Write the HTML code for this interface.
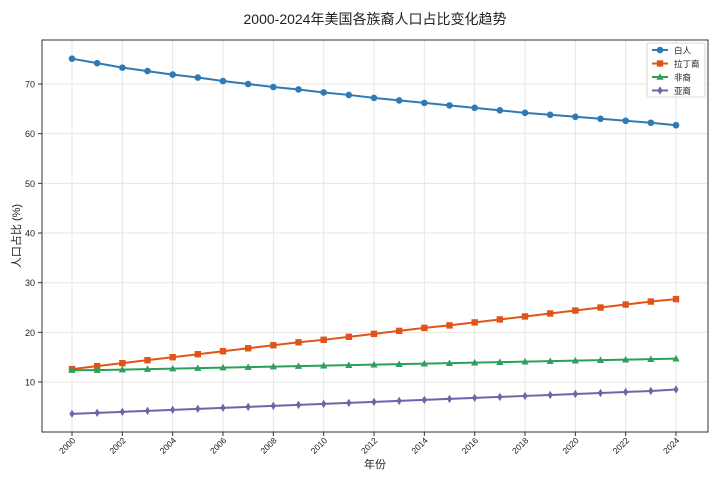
<!DOCTYPE html>
<html><head><meta charset="utf-8"><style>
body{margin:0;background:#fff;}
svg{display:block;font-family:"Liberation Sans","Noto Sans CJK SC",sans-serif;}
</style></head><body>
<svg id="c" width="720" height="478" viewBox="0 0 720 478">
<text x="375" y="24" text-anchor="middle" font-size="14" fill="#222">2000-2024年美国各族裔人口占比变化趋势</text>
<g id="grid"></g>
<rect x="42" y="40" width="666" height="392" fill="none" stroke="#333" stroke-width="1"/>
<g id="axes"></g>
<g id="series"></g>
<text x="375" y="468" text-anchor="middle" font-size="11" fill="#222">年份</text>
<text transform="translate(20,236) rotate(-90)" text-anchor="middle" font-size="11" fill="#222">人口占比 (%)</text>
<g id="legend"></g>
</svg>
<script>
const years=[2000,2001,2002,2003,2004,2005,2006,2007,2008,2009,2010,2011,2012,2013,2014,2015,2016,2017,2018,2019,2020,2021,2022,2023,2024];
const white=[75.1,74.2,73.3,72.6,71.9,71.3,70.6,70.0,69.4,68.9,68.3,67.8,67.2,66.7,66.2,65.7,65.2,64.7,64.2,63.8,63.4,63.0,62.6,62.2,61.7];
const hispanic=[12.6,13.2,13.8,14.4,15.0,15.6,16.2,16.8,17.4,18.0,18.5,19.1,19.7,20.3,20.9,21.4,22.0,22.6,23.2,23.8,24.4,25.0,25.6,26.2,26.7];
const black=[12.4,12.4,12.5,12.6,12.7,12.8,12.9,13.0,13.1,13.2,13.3,13.4,13.5,13.6,13.7,13.8,13.9,14.0,14.1,14.2,14.3,14.4,14.5,14.6,14.7];
const asian=[3.6,3.8,4.0,4.2,4.4,4.6,4.8,5.0,5.2,5.4,5.6,5.8,6.0,6.2,6.4,6.6,6.8,7.0,7.2,7.4,7.6,7.8,8.0,8.2,8.5];
const yTicks=[10,20,30,40,50,60,70];
const xTicks=[2000,2002,2004,2006,2008,2010,2012,2014,2016,2018,2020,2022,2024];
const seriesNames=["白人","拉丁裔","非裔","亚裔"];
const NS="http://www.w3.org/2000/svg";
const X=v=>72+(v-2000)*(676-72)/24;
const Y=v=>431.7-v*4.967;
function mk(tag,attrs,parent){const e=document.createElementNS(NS,tag);for(const k in attrs)e.setAttribute(k,attrs[k]);parent.appendChild(e);return e;}
const grid=document.getElementById('grid'),axes=document.getElementById('axes'),ser=document.getElementById('series'),leg=document.getElementById('legend');
yTicks.forEach(t=>{
 const l=mk('line',{x1:42,x2:708,y1:Y(t),y2:Y(t),stroke:'#e6e6e6','stroke-width':1},grid);
 
 
 mk('line',{x1:38,x2:42,y1:Y(t),y2:Y(t),stroke:'#333'},axes);
 const tx=mk('text',{x:35,y:Y(t)+3.5,'text-anchor':'end','font-size':9,fill:'#222'},axes);tx.textContent=t;
 
 
});
xTicks.forEach(t=>{
 const l=mk('line',{x1:X(t),x2:X(t),y1:40,y2:432,stroke:'#e6e6e6','stroke-width':1},grid);
 
 
 mk('line',{x1:X(t),x2:X(t),y1:432,y2:436,stroke:'#333'},axes);
 const tx=mk('text',{transform:`translate(${X(t)+4},${441}) rotate(-45)`,'text-anchor':'end','font-size':8.5,fill:'#222'},axes);tx.textContent=t;
 
 
});
function marker(kind,x,y,c,g){
 if(kind==='o')return mk('circle',{cx:x,cy:y,r:3.3,fill:c},g);
 if(kind==='s')return mk('rect',{x:x-3.2,y:y-3.2,width:6.4,height:6.4,fill:c},g);
 if(kind==='^')return mk('polygon',{points:`${x},${y-3.8} ${x-3.6},${y+2.8} ${x+3.6},${y+2.8}`,fill:c},g);
 return mk('polygon',{points:`${x},${y-4.2} ${x-2.6},${y} ${x},${y+4.2} ${x+2.6},${y}`,fill:c},g);
}
const all=[[white,'#2e7ab5','o','white'],[hispanic,'#e0541a','s','hispanic'],[black,'#2ca05a','^','black'],[asian,'#7263a8','d','asian']];
all.forEach(([vals,c,m,n])=>{
 const g=mk('g',{},ser);
 
 
 const p=mk('polyline',{points:vals.map((v,i)=>X(years[i])+','+Y(v)).join(' '),fill:'none',stroke:c,'stroke-width':2},g);
 
 
 vals.forEach((v,i)=>{const e=marker(m,X(years[i]),Y(v),c,g);
  
  });
});
mk('rect',{x:647,y:43,width:58,height:54,fill:'#fff',stroke:'#ccc','stroke-width':0.8,rx:2},leg);
all.forEach(([vals,c,m,n],i)=>{
 const y=50+i*13.5;
 const g=mk('g',{},leg);
 
 
 mk('line',{x1:652,x2:668,y1:y,y2:y,stroke:c,'stroke-width':2},g);
 marker(m,660,y,c,g);
 const t=mk('text',{x:674,y:y+3.5,'font-size':8.5,fill:'#222'},g);t.textContent=seriesNames[i];
});
</script>
</body></html>
